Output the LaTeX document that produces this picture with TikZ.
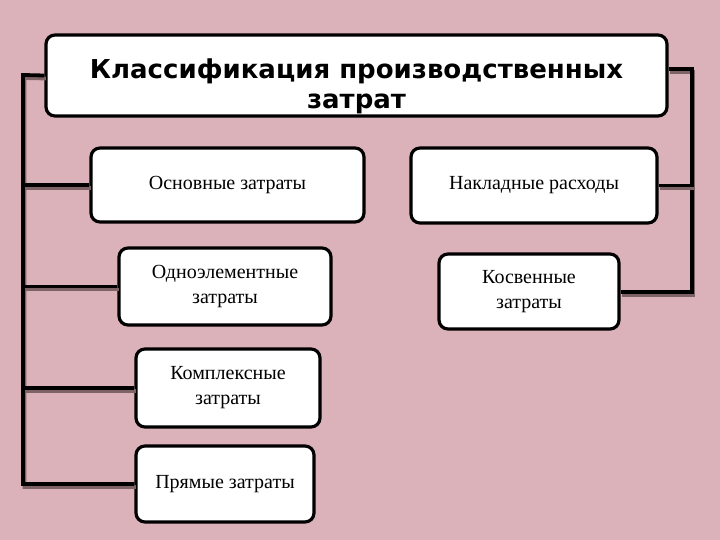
\documentclass[tikz,border=0pt]{standalone}
\usepackage{fontspec}
\setmainfont{Liberation Serif}
\newfontfamily\headfont{DejaVu Sans}
\definecolor{bgpink}{RGB}{220,178,186}
\definecolor{shadowbrown}{RGB}{125,98,102}

\begin{document}
\begin{tikzpicture}[x=1pt,y=-1pt,
  item/.style={draw=black,line width=3.2pt,rounded corners=9pt,fill=white,
    align=center,inner sep=0pt,font=\fontsize{20}{25}\selectfont},
  conn/.style={line width=3.8pt,
    preaction={draw=shadowbrown,line width=3.8pt,transform canvas={shift={(1.5pt,-3pt)}}}}]
\fill[bgpink] (0,0) rectangle (720,540);
\useasboundingbox (0,0) rectangle (720,540);
% trunks
\coordinate (lt) at (23,75);
\coordinate (lb) at (23,484);
\coordinate (rt) at (692,69);
\coordinate (rb) at (692,292);
% boxes
\node[item,minimum width=621pt,minimum height=81pt] (title) at (356.5,75.5) {};
\node[align=center,font=\headfont\bfseries\fontsize{26}{30}\selectfont]
  (titletext) at ([yshift=-11pt]title.center) {Классификация производственных\\затрат};
\node[item,minimum width=273pt,minimum height=74pt] (osn) at (227.5,185) {Основные затраты};
\node[item,minimum width=246pt,minimum height=75pt] (nakl) at (534,185.5) {Накладные расходы};
\node[item,minimum width=212pt,minimum height=77pt] (odno) at (225,286.5) {Одноэлементные\\затраты};
\node[item,minimum width=180pt,minimum height=75pt] (kosv) at (529,291.5) {Косвенные\\затраты};
\node[item,minimum width=184pt,minimum height=78pt] (kompl) at (228,388) {Комплексные\\затраты};
\node[item,minimum width=178pt,minimum height=76pt] (pryam) at (225,484) {Прямые затраты};
% connectors
\draw[conn] (title.west) -- (lt) -- (lb) -- (pryam.west);
\draw[conn] (osn.west) -- (osn.west -| lt);
\draw[conn] (odno.west) -- (odno.west -| lt);
\draw[conn] (kompl.west) -- (kompl.west -| lt);
\draw[conn] (title.east |- rt) -- (rt) -- (rb) -- (kosv.east |- rb);
\draw[conn] (nakl.east) -- (nakl.east -| rt);
\end{tikzpicture}
\end{document}
